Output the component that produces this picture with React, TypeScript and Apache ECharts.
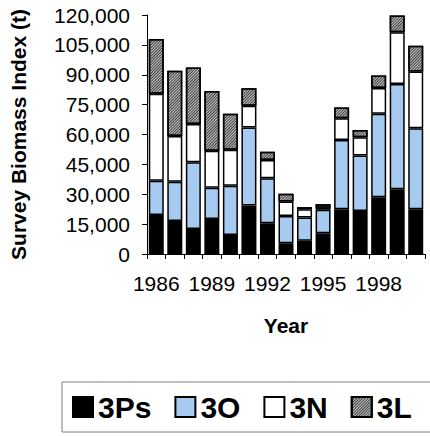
import React, { useEffect, useRef } from "react";
import * as echarts from "echarts";

const years = ["1986","1987","1988","1989","1990","1991","1992","1993","1994","1995","1996","1997","1998","1999","2000"];
const s3Ps = [19.6, 16.6, 12.6, 17.6, 9.5, 24.3, 15.4, 5.4, 6.7, 10.4, 22.5, 21.6, 28.5, 32.5, 22.5].map(v => v * 1000);
const s3O = [17.2, 19.7, 33.5, 15.7, 24.8, 39.2, 22.6, 13.7, 11.6, 11.8, 34.8, 27.8, 41.9, 52.8, 40.7].map(v => v * 1000);
const s3N = [43.6, 23.0, 19.2, 18.6, 18.0, 10.9, 9.2, 7.2, 4.2, 1.0, 10.9, 9.2, 12.9, 26.1, 28.4].map(v => v * 1000);
const s3L = [27.5, 32.7, 28.3, 30.0, 18.1, 8.8, 4.1, 3.9, 1.0, 1.8, 5.3, 3.7, 6.3, 8.3, 12.9].map(v => v * 1000);
const seriesNames = ["3Ps", "3O", "3N", "3L"];

const FONT = "'Liberation Sans', Arial, sans-serif";

export default function App() {
  const ref = useRef<HTMLDivElement>(null);
  useEffect(() => {
    if (!ref.current) return;
    const chart = echarts.init(ref.current, null, { renderer: "svg" });
    const border = { borderColor: "#000", borderWidth: 1.5 };
    const mk = (name: string, data: number[], itemStyle: any) => ({
      name,
      type: "bar",
      stack: "total",
      data,
      barWidth: 15,
      itemStyle: { ...border, ...itemStyle },
      emphasis: { disabled: true },
    });
    chart.setOption({
      animation: false,
      textStyle: { fontFamily: FONT },
      grid: { left: 142, right: 5, top: 15, bottom: 182, containLabel: false },
      legend: {
        data: seriesNames,
        icon: "rect",
        left: 62,
        top: 382,
        width: 440,
        orient: "horizontal",
        itemWidth: 20,
        itemHeight: 20,
        itemGap: 23,
        padding: [10, 40, 10, 10],
        borderColor: "#808080",
        borderWidth: 1,
        selectedMode: false,
        textStyle: { fontSize: 30, fontWeight: "bold", color: "#000", fontFamily: FONT },
      },
      xAxis: {
        type: "category",
        data: years,
        name: "Year",
        nameLocation: "middle",
        nameGap: 61,
        nameTextStyle: { fontSize: 21, fontWeight: "bold", color: "#000", fontFamily: FONT },
        axisLine: { lineStyle: { color: "#000", width: 1 } },
        axisTick: { show: true, length: 5, interval: 0, lineStyle: { color: "#000" } },
        axisLabel: { interval: 2, margin: 19, fontSize: 21, color: "#000", fontFamily: FONT },
      },
      yAxis: {
        type: "value",
        min: 0,
        max: 120000,
        interval: 15000,
        name: "Survey Biomass Index (t)",
        nameLocation: "middle",
        nameGap: 118,
        nameTextStyle: { fontSize: 21, fontWeight: "bold", color: "#000", fontFamily: FONT },
        axisLine: { show: true, lineStyle: { color: "#000", width: 1 } },
        axisTick: { show: true, length: 5, lineStyle: { color: "#000" } },
        splitLine: { show: false },
        axisLabel: {
          margin: 17,
          fontSize: 21,
          color: "#000",
          fontFamily: FONT,
          formatter: (v: number) => v.toLocaleString("en-US"),
        },
      },
      series: [
        mk("3Ps", s3Ps, { color: "#000000" }),
        mk("3O", s3O, { color: "#a6caf0" }),
        mk("3N", s3N, { color: "#ffffff" }),
        mk("3L", s3L, {
          color: "#c8c8c8",
          decal: {
            symbol: "rect",
            symbolSize: 1,
            color: "#3a3a3a",
            dashArrayX: [1, 0],
            dashArrayY: [1, 1],
            rotation: -Math.PI / 4,
          },
        }),
      ],
    });
    return () => chart.dispose();
  }, []);
  return (
    <div
      ref={ref}
      style={{ position: "fixed", left: 0, top: 0, width: 430, height: 436, background: "#fff" }}
    />
  );
}
